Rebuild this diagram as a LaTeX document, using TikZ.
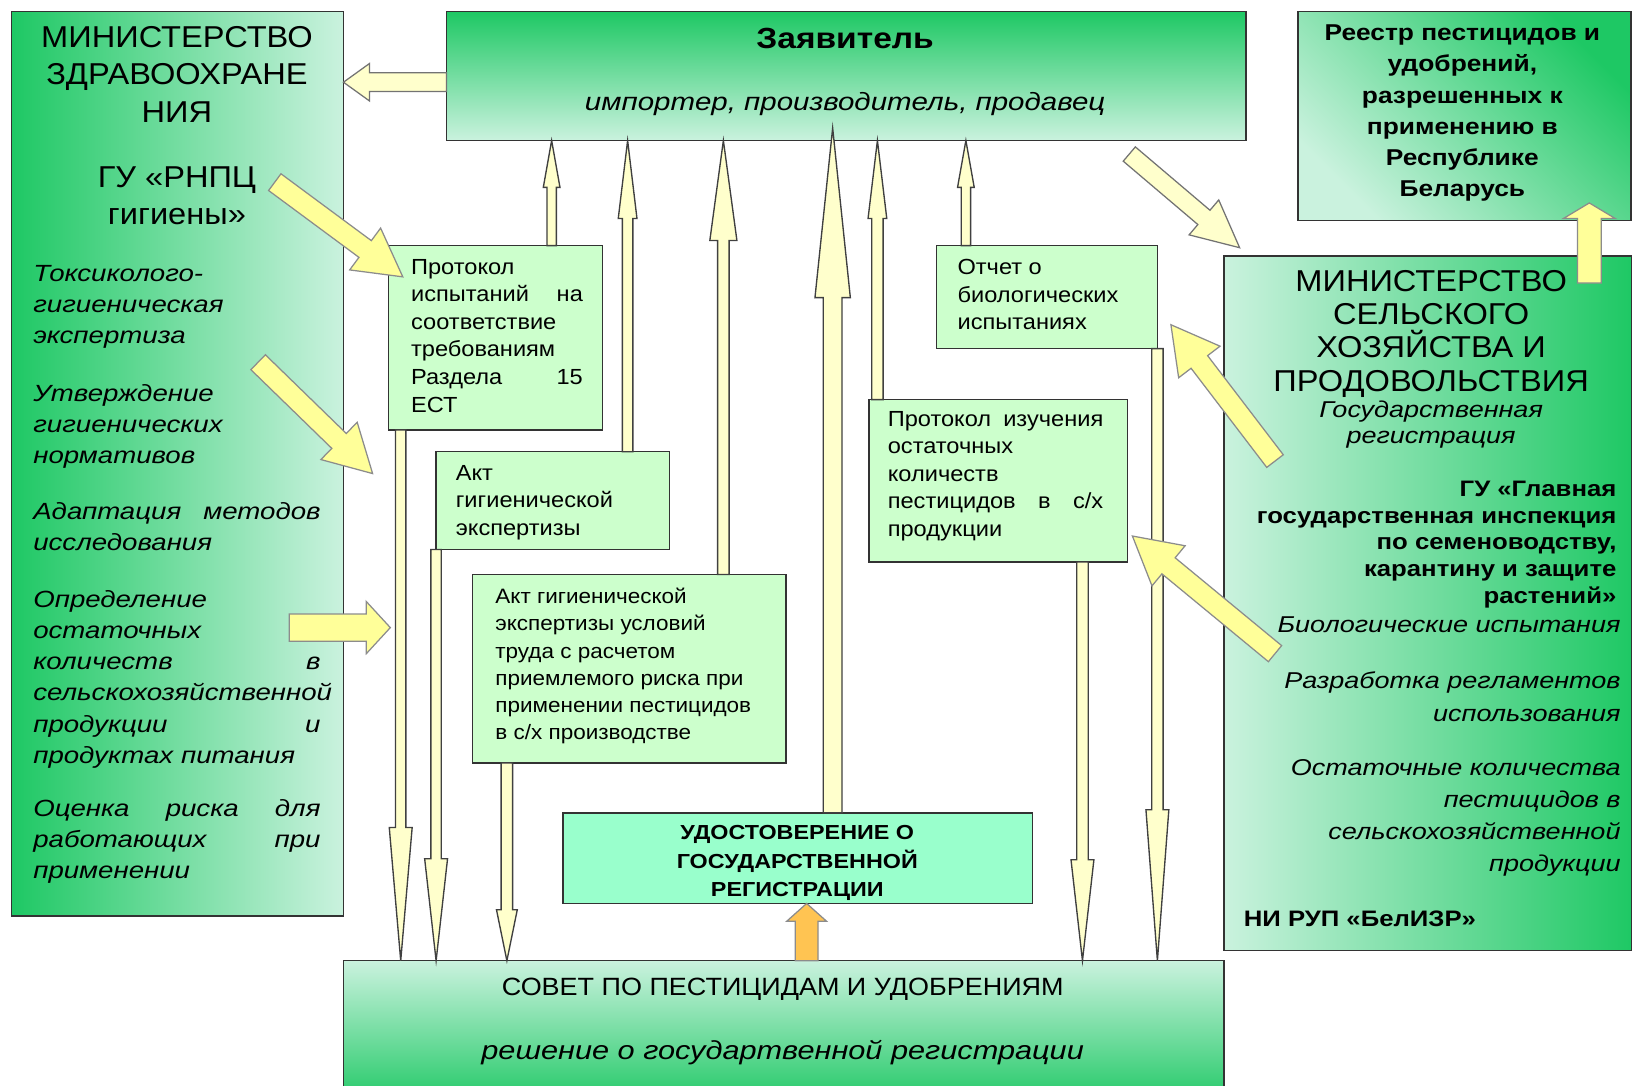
\documentclass[tikz,border=0pt]{standalone}
\usepackage{fontspec}
\setmainfont{Liberation Sans}[UprightFeatures={FakeStretch=1.08},BoldFeatures={FakeStretch=1.15},ItalicFeatures={FakeStretch=1.18}]
\usetikzlibrary{calc}
\definecolor{gdark}{RGB}{30,200,100}
\definecolor{gpale}{RGB}{202,242,222}
\definecolor{boxfill}{RGB}{204,255,204}
\definecolor{udofill}{RGB}{153,255,204}
\definecolor{pyel}{RGB}{255,255,204}
\definecolor{yel}{RGB}{255,255,153}
\definecolor{orng}{RGB}{255,196,82}
% block arrow: start, end(tip), shaft half width, head half width, head length, style
\newcommand\barr[6]{%
  \coordinate (bh) at ($(#2)!#5!(#1)$);
  \path[#6] ($(#1)!#3!90:(#2)$) -- ($(bh)!#3!-90:(#1)$) -- ($(bh)!#4!-90:(#1)$) -- (#2)
    -- ($(bh)!#4!90:(#1)$) -- ($(bh)!#3!90:(#1)$) -- ($(#1)!#3!-90:(#2)$) -- cycle;}
\begin{document}
\begin{tikzpicture}[x=1pt,y=-1pt,
  box/.style={draw=black!80, line width=1.3pt, rectangle, inner sep=0pt, outer sep=0pt, anchor=north west},
  sbox/.style={box, fill=boxfill},
  txt/.style={inner sep=0pt, outer sep=0pt, anchor=north west, align=left},
  ctxt/.style={inner sep=0pt, outer sep=0pt, anchor=north, align=center},
  rtxt/.style={inner sep=0pt, outer sep=0pt, anchor=north east, align=right},
  small/.style={font=\fontsize{21}{26.5}\selectfont},
  lit/.style={font=\fontsize{22.5}{30}\selectfont\itshape, text width=276pt},
  rit/.style={font=\fontsize{22}{30.5}\selectfont\itshape},
  thin/.style={fill=pyel, draw=black!75, line width=1.3pt, line join=miter},
  fat/.style={fill=yel, draw=black!45, line width=1.2pt, line join=miter},
  pfat/.style={fill=pyel, draw=black!55, line width=1.2pt, line join=miter},
  ofat/.style={fill=orng, draw=black!45, line width=1.2pt, line join=miter}]
\useasboundingbox (0,0) rectangle (1568,1043);
\fill[white] (0,0) rectangle (1568,1043);
\clip (0,0) rectangle (1568,1043);

% ---------- big boxes ----------
\node[box, minimum width=319pt, minimum height=869pt, left color=gdark, right color=gpale] (moz) at (11,11) {};
\node[box, minimum width=768pt, minimum height=124pt, top color=gdark, bottom color=gpale] (zv) at (429,11) {};
\node[box, minimum width=320pt, minimum height=201pt, top color=gdark, bottom color=gpale, shading angle=-45] (reg) at (1247,11) {};
\node[box, minimum width=392pt, minimum height=667pt, left color=gpale, right color=gdark] (msh) at (1176,246) {};
\node[box, minimum width=846pt, minimum height=140pt, top color=gpale, bottom color=gdark] (sov) at (330,923) {};

% ---------- small boxes ----------
\node[sbox, minimum width=206pt, minimum height=177pt] (prot) at (373,236) {};
\node[sbox, minimum width=224pt, minimum height=94pt] (akg) at (419,434) {};
\node[sbox, minimum width=301pt, minimum height=181pt] (akb) at (454,552) {};
\node[sbox, minimum width=212pt, minimum height=99pt] (otc) at (900,236) {};
\node[sbox, minimum width=248pt, minimum height=156pt] (piz) at (835,384) {};
\node[box, fill=udofill, minimum width=451pt, minimum height=87pt] (udo) at (541,781) {};

% ---------- left box texts ----------
\node[ctxt, font=\fontsize{29}{36}\selectfont] (mozT) at (170,25) {МИНИСТЕРСТВО\\ЗДРАВООХРАНЕ\\НИЯ};
\node[ctxt, font=\fontsize{29}{36}\selectfont] (mozG) at (170,160) {ГУ «РНПЦ\\гигиены»};
\node[txt, lit] (l1) at (32,255) {Токсиколого-\\гигиеническая\\экспертиза};
\node[txt, lit] (l2) at (32,369) {Утверждение\\гигиенических\\нормативов};
\node[txt, lit] (l3) at (32,483) {Адаптация\hfill методов\\исследования};
\node[txt, lit] (l4) at (32,567) {Определение\\остаточных\\количеств\hfill в\\сельскохозяйственной\\продукции\hfill и\\продуктах питания};
\node[txt, lit] (l5) at (32,768) {Оценка\hfill риска\hfill для\\работающих\hfill при\\применении};

% ---------- top box texts ----------
\node[inner sep=0pt, anchor=base, font=\fontsize{28}{32}\selectfont\bfseries] (zvT) at (812,47) {Заявитель};
\node[inner sep=0pt, anchor=base, font=\fontsize{24}{30}\selectfont\itshape] (zvS) at (812,106) {импортер, производитель, продавец};

% ---------- register ----------
\node[ctxt, font=\fontsize{22}{30}\selectfont\bfseries] (regT) at (1405,24) {Реестр пестицидов и\\удобрений,\\разрешенных к\\применению в\\Республике\\Беларусь};

% ---------- right box texts ----------
\node[ctxt, font=\fontsize{29}{32}\selectfont] (mshT) at (1375,259.5) {МИНИСТЕРСТВО\\СЕЛЬСКОГО\\ХОЗЯЙСТВА И\\ПРОДОВОЛЬСТВИЯ};
\node[ctxt, font=\fontsize{22}{25}\selectfont\itshape] (mshS) at (1375,385) {Государственная\\регистрация};
\node[rtxt, font=\fontsize{21.5}{25.8}\selectfont\bfseries] (gu) at (1553,462) {ГУ «Главная\\государственная инспекция\\по семеноводству,\\карантину и защите\\растений»};
\node[rtxt, rit] (r1) at (1557,593) {Биологические испытания};
\node[rtxt, rit, font=\fontsize{22}{32}\selectfont\itshape] (r2) at (1557,645) {Разработка регламентов\\использования};
\node[rtxt, rit] (r3) at (1557,730) {Остаточные количества\\пестицидов в\\сельскохозяйственной\\продукции};
\node[txt, font=\fontsize{21.5}{25}\selectfont\bfseries] (nirup) at (1195,875) {НИ РУП «БелИЗР»};

% ---------- small box texts ----------
\node[txt, small, text width=165pt] (protT) at (395,249) {Протокол\\испытаний\hfill на\\соответствие\\требованиям\\Раздела\hfill 15\\ЕСТ};
\node[txt, small] (akgT) at (438,447) {Акт\\гигиенической\\экспертизы};
\node[txt, font=\fontsize{20}{26.2}\selectfont] (akbT) at (476,565) {Акт гигиенической\\экспертизы условий\\труда с расчетом\\приемлемого риска при\\применении пестицидов\\в с/х производстве};
\node[txt, small] (otcT) at (920,249) {Отчет о\\биологических\\испытаниях};
\node[txt, small, text width=207pt] (pizT) at (853,395) {Протокол\hfill изучения\\остаточных\\количеств\\пестицидов\hfill в\hfill с/х\\продукции};
\begin{scope}
\clip ($(udo.north west)+(2,2)$) rectangle ($(udo.south east)+(-2,-2)$);
\node[ctxt, font=\fontsize{19.5}{27.5}\selectfont\bfseries] (udoT) at (766,793) {УДОСТОВЕРЕНИЕ О\\ГОСУДАРСТВЕННОЙ\\РЕГИСТРАЦИИ};
\end{scope}

% ---------- bottom box texts ----------
\node[inner sep=0pt, anchor=base, font=\fontsize{24}{30}\selectfont] (sovT) at (752,956) {СОВЕТ ПО ПЕСТИЦИДАМ И УДОБРЕНИЯМ};
\node[inner sep=0pt, anchor=base, font=\fontsize{25}{30}\selectfont\itshape] (sovS) at (752,1018) {решение о государтвенной регистрации};

% ---------- coordinates ----------
\coordinate (x385) at (385,0);
\coordinate (x487) at (487,0);
\coordinate (x530) at (530,0);
\coordinate (x603) at (603,0);
\coordinate (x695) at (695,0);
\coordinate (x775) at (775,0);
\coordinate (x800) at (800,0);
\coordinate (x843) at (843,0);
\coordinate (x928) at (928,0);
\coordinate (x1040) at (1040,0);
\coordinate (x1527) at (1527,0);
\coordinate (ly) at (0,79);
\coordinate (tipc) at ($(zv.south -| x800)+(0,-12)$);

% ---------- thin arrows up ----------
\barr{prot.north -| x530}{zv.south -| x530}{4.5pt}{8pt}{45pt}{thin}
\barr{akg.north -| x603}{zv.south -| x603}{5pt}{9pt}{75pt}{thin}
\barr{akb.north -| x695}{zv.south -| x695}{5.5pt}{13pt}{96pt}{thin}
\barr{udo.north -| x800}{tipc}{9pt}{17pt}{163pt}{thin}
\barr{piz.north -| x843}{zv.south -| x843}{5.5pt}{9pt}{75pt}{thin}
\barr{otc.north -| x928}{zv.south -| x928}{4.5pt}{8pt}{45pt}{thin}

% ---------- thin arrows down ----------
\barr{prot.south -| x385}{sov.north -| x385}{5pt}{11pt}{128pt}{thin}
\barr{akg.south west}{sov.north -| akg.south west}{5pt}{11pt}{98pt}{thin}
\barr{akb.south -| x487}{sov.north -| x487}{5.5pt}{10pt}{49pt}{thin}
\barr{piz.south -| x1040}{sov.north -| x1040}{5.5pt}{11pt}{97pt}{thin}
\barr{otc.south east}{sov.north -| otc.south east}{5.5pt}{11pt}{145pt}{thin}

% ---------- orange ----------
\barr{sov.north -| x775}{udo.south -| x775}{11pt}{19pt}{17pt}{ofat}

% ---------- block arrows ----------
\barr{zv.west |- ly}{moz.east |- ly}{9pt}{18pt}{25pt}{pfat}
\coordinate (a5t) at (1085,148);
\barr{a5t}{$(msh.north west)+(15,-8)$}{9pt}{22pt}{45pt}{pfat}
\coordinate (a6t) at (1527,272);
\barr{a6t}{$(reg.south -| x1527)+(0,-17)$}{11.5pt}{25pt}{15pt}{fat}

\coordinate (a1t) at (264,175);
\barr{a1t}{$(prot.north west)+(14,30)$}{10pt}{25pt}{45pt}{fat}
\coordinate (a2t) at (248,348);
\coordinate (a2h) at (358,455);
\barr{a2t}{a2h}{10pt}{25pt}{45pt}{fat}
\coordinate (a3t) at (278,603);
\coordinate (a3h) at (375,603);
\barr{a3t}{a3h}{13pt}{25pt}{23pt}{fat}
\coordinate (a7t) at (1225,443);
\barr{a7t}{$(otc.south east)+(13,-23)$}{10pt}{25pt}{45pt}{fat}
\coordinate (a8t) at (1225,628);
\barr{a8t}{$(piz.south east)+(5,-25)$}{10pt}{25pt}{45pt}{fat}
\end{tikzpicture}
\end{document}
